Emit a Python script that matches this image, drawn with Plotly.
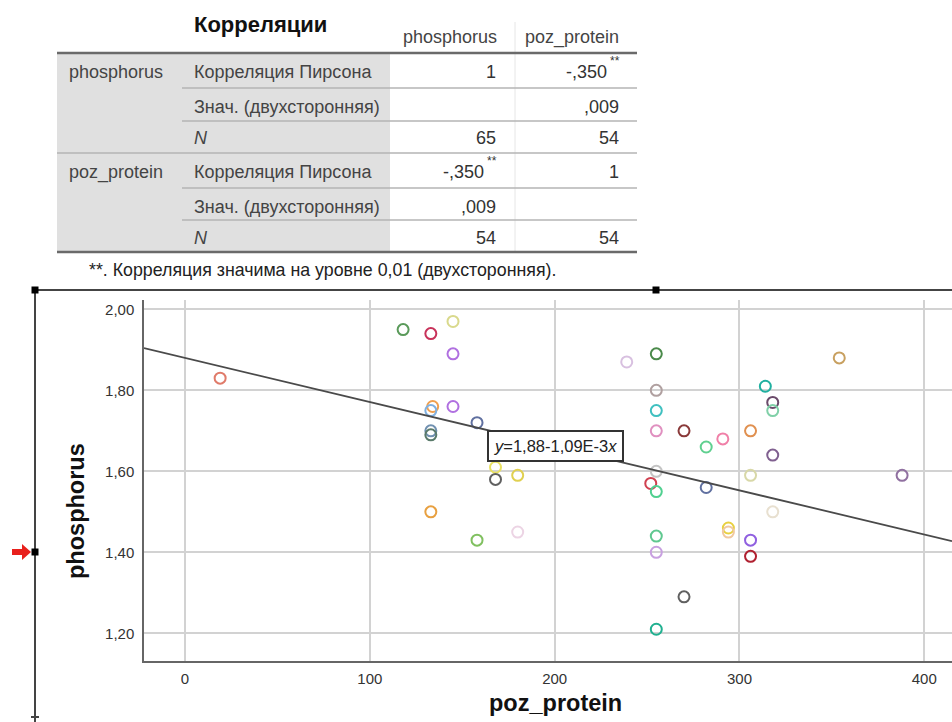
import numpy as np
import plotly.graph_objects as go

# ---------------- data ----------------
table_title = "Корреляции"
col_headers = ["phosphorus", "poz_protein"]
row_vars = ["phosphorus", "poz_protein"]
stat_labels = ["Корреляция Пирсона", "Знач. (двухсторонняя)", "N"]
cells_phosphorus = [["1", "-,350**"], ["", ",009"], ["65", "54"]]
cells_protein = [["-,350**", "1"], [",009", ""], ["54", "54"]]
footnote = "**. Корреляция значима на уровне 0,01 (двухсторонняя)."

poz_protein = [19, 118, 133, 145, 145, 134, 133, 145, 133, 133, 158, 133, 158, 180,
               168, 168, 180, 239, 255, 255, 255, 255, 270, 291, 282, 306, 314, 318,
               318, 318, 354, 388, 255, 252, 255, 282, 306, 255, 255, 294, 294, 306,
               306, 270, 255, 318]
phosphorus = [1.83, 1.95, 1.94, 1.97, 1.89, 1.76, 1.75, 1.76, 1.70, 1.69, 1.72, 1.50,
              1.43, 1.45, 1.61, 1.58, 1.59, 1.87, 1.89, 1.80, 1.75, 1.70, 1.70, 1.68,
              1.66, 1.70, 1.81, 1.77, 1.75, 1.64, 1.88, 1.59, 1.60, 1.57, 1.55, 1.56,
              1.59, 1.44, 1.40, 1.46, 1.45, 1.43, 1.39, 1.29, 1.21, 1.50]
point_colors = ["#e07b6a", "#5a9a5a", "#c8325a", "#d9d98c", "#b070e0", "#f0a050",
                "#80b0e0", "#b070e0", "#7090b0", "#5a7a6a", "#6070a0", "#e8a040",
                "#80c060", "#ecd4e4", "#e8e060", "#606060", "#e0d050", "#d8c0e0",
                "#4a8a4a", "#b0a0a0", "#40c0c0", "#e090c0", "#8a3a3a", "#f080a8",
                "#60d090", "#e09050", "#20b0a0", "#6a4a6a", "#80d0a8", "#806090",
                "#c8a060", "#9070a0", "#c4c4c4", "#d04050", "#50d090", "#6070a0",
                "#d8d8a8", "#60c890", "#c8a0e0", "#e8d040", "#f0c8a0", "#9060e0",
                "#b02030", "#606060", "#20b090", "#e8e0d0"]
fit_intercept = 1.88
fit_slope = -1.09e-3
fit_label = "<i>y</i>=1,88-1,09E-3<i>x</i>"

x_ticks = [0, 100, 200, 300, 400]
y_ticks = [1.20, 1.40, 1.60, 1.80, 2.00]
y_ticklabels = ["1,20", "1,40", "1,60", "1,80", "2,00"]
x_title = "poz_protein"
y_title = "phosphorus"

# ---------------- layout geometry (pixels) ----------------
W, H = 952, 722
L, R, T, B = 144, 0, 300, 61
PW, PH = W - L - R, H - T - B
x_range = [-22.2, 415.0]
y_range = [1.1316, 2.023]


def fx(px):
    return (px - L) / PW


def fy(py):
    return (H - B - py) / PH


FONT = "Liberation Sans, Arial, sans-serif"
fig = go.Figure()

fig.add_trace(go.Scatter(
    x=poz_protein, y=phosphorus, mode="markers",
    marker=dict(symbol="circle-open", size=11, color=point_colors,
                line=dict(width=2, color=point_colors)),
    hoverinfo="x+y", showlegend=False))

xl = np.array(x_range)
fig.add_trace(go.Scatter(
    x=xl, y=fit_intercept + fit_slope * xl, mode="lines",
    line=dict(color="#4a4a4a", width=1.8), hoverinfo="skip", showlegend=False))

shapes = []
ann = []


def pann(px, py, text, xanchor="left", font=None, **kw):
    d = dict(x=fx(px), y=fy(py), xref="paper", yref="paper", text=text,
             showarrow=False, xanchor=xanchor, yanchor="middle", font=font)
    d.update(kw)
    ann.append(d)


# ---------------- table ----------------
tbl_left, tbl_right, gray_right, col_div = 57, 637, 390, 515
row_lines = [53, 88, 121, 153, 188, 220, 252]
row_centers = [72, 107, 138, 172, 207, 238]
shapes.append(dict(type="rect", xref="paper", yref="paper",
                   x0=fx(tbl_left), x1=fx(gray_right), y0=fy(252), y1=fy(53),
                   fillcolor="#e0e0e0", line=dict(width=0), layer="below"))
shapes.append(dict(type="line", xref="paper", yref="paper",
                   x0=fx(col_div), x1=fx(col_div), y0=fy(252), y1=fy(22),
                   line=dict(color="#e6e6e6", width=1)))
for i, yy in enumerate(row_lines):
    if i in (0, 6):
        x0, lw, col = tbl_left, 2.5, "#6a6a6a"
    elif i == 3:
        x0, lw, col = tbl_left, 1.5, "#b4b4b4"
    else:
        x0, lw, col = 182, 1.5, "#b4b4b4"
    shapes.append(dict(type="line", xref="paper", yref="paper",
                       x0=fx(x0), x1=fx(tbl_right), y0=fy(yy), y1=fy(yy),
                       line=dict(color=col, width=lw)))

pann(192, 24, "<b>" + table_title + "</b>", font=dict(family=FONT, size=22, color="#111"))
for h, xr in zip(col_headers, [499, 621]):
    pann(xr, 37, h, xanchor="right", font=dict(family=FONT, size=18, color="#444"))

TXT = dict(family=FONT, size=18, color="#444")
VAL = dict(family=FONT, size=18, color="#333")
for b, (var, cells) in enumerate(zip(row_vars, [cells_phosphorus, cells_protein])):
    pann(67, row_centers[b * 3], var, font=TXT)
    for r, lab in enumerate(stat_labels):
        yc = row_centers[b * 3 + r]
        t = "<i>" + lab + "</i>" if lab == "N" else lab
        pann(192, yc, t, font=TXT)
        for c, val in enumerate(cells[r]):
            if not val:
                continue
            xr = [498, 621][c]
            if val.endswith("**"):
                pann(xr - 12, yc, val[:-2], xanchor="right", font=VAL)
                pann(xr - 13, yc - 11, "**", font=dict(family=FONT, size=12, color="#333"))
            else:
                pann(xr, yc, val, xanchor="right", font=VAL)
pann(87, 270, footnote, font=dict(family=FONT, size=17.8, color="#222"))

# ---------------- chart frame (selection outline) ----------------
shapes.append(dict(type="line", xref="paper", yref="paper", x0=fx(35), x1=fx(952),
                   y0=fy(290), y1=fy(290), line=dict(color="#444", width=2)))
shapes.append(dict(type="line", xref="paper", yref="paper", x0=fx(35), x1=fx(35),
                   y0=fy(290), y1=fy(722), line=dict(color="#444", width=2)))
for (hx, hy) in [(35, 290), (656, 290), (35, 552)]:
    shapes.append(dict(type="rect", xref="paper", yref="paper",
                       x0=fx(hx - 3.5), x1=fx(hx + 3.5), y0=fy(hy + 3.5), y1=fy(hy - 3.5),
                       fillcolor="#000", line=dict(width=0)))
shapes.append(dict(type="line", xref="paper", yref="paper", x0=fx(31), x1=fx(39),
                   y0=fy(717), y1=fy(717), line=dict(color="#444", width=2)))
shapes.append(dict(type="path", xref="paper", yref="paper",
                   path=("M {a},{b} L {c},{b} L {c},{d} L {e},{f} L {c},{g} L {c},{h} L {a},{h} Z"
                         .format(a=fx(12), b=fy(549), c=fx(22), d=fy(544),
                                 e=fx(31), f=fy(552), g=fy(560), h=fy(555))),
                   fillcolor="#e8201c", line=dict(width=0)))

# regression label (data coordinates)
ann.append(dict(x=200.2, y=1.6637, xref="x", yref="y", text=fit_label, showarrow=False,
                xanchor="center", yanchor="middle", bgcolor="white",
                bordercolor="#333", borderwidth=2, borderpad=5,
                font=dict(family=FONT, size=16.5, color="#222")))

# axis titles
pann(76, 511, "<b>" + y_title + "</b>", xanchor="center", textangle=-90,
     font=dict(family=FONT, size=23.5, color="#111"))
pann(555, 703, "<b>" + x_title + "</b>", xanchor="center",
     font=dict(family=FONT, size=23.5, color="#111"))

fig.update_layout(
    width=W, height=H, margin=dict(l=L, r=R, t=T, b=B, pad=0),
    paper_bgcolor="white", plot_bgcolor="white",
    shapes=shapes, annotations=ann, showlegend=False,
    xaxis=dict(range=x_range, tickvals=x_ticks, showgrid=True, gridcolor="#d2d2d2",
               gridwidth=1.5, zeroline=False, showline=True, linecolor="#666",
               linewidth=1.5, ticks="", ticklabelstandoff=3,
               tickfont=dict(family=FONT, size=15, color="#333")),
    yaxis=dict(range=y_range, tickvals=y_ticks, ticktext=y_ticklabels, showgrid=True,
               gridcolor="#d2d2d2", gridwidth=1.5, zeroline=False, showline=True,
               linecolor="#666", linewidth=1.5, ticks="", ticklabelstandoff=5,
               tickfont=dict(family=FONT, size=15, color="#333")),
)

fig.write_html("out.html", config={"displayModeBar": False},
               post_script="document.body.style.margin='0';")
